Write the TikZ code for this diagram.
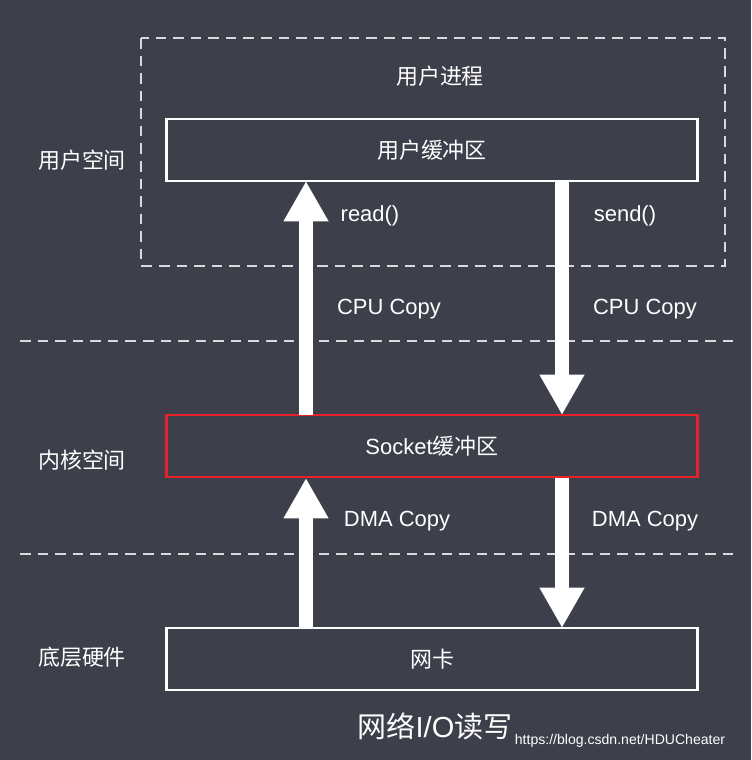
\documentclass[tikz,border=0pt]{standalone}
\usepackage{fontspec}
\setmainfont{Liberation Sans}
\newfontfamily\cjk{Noto Sans CJK SC}
\usetikzlibrary{positioning, arrows.meta}
\definecolor{bgdark}{HTML}{3D3F4A}
\definecolor{boxred}{HTML}{E8202A}
\begin{document}
\begin{tikzpicture}[x=0.02cm, y=-0.02cm,
    lbl/.style={text=white, font=\fontsize{12.5}{15}\selectfont},
    buf/.style={draw=white, line width=1.3pt, minimum width=531*0.02cm, minimum height=62*0.02cm, text=white, font=\fontsize{12.5}{15}\selectfont},
    sep/.style={draw=white!85!black, dashed, line width=1.3pt, dash pattern=on 6pt off 4pt},
    copyarrow/.style={draw=white, line width=8pt, -{Triangle[width=24pt, length=23pt]}}]
    \fill[bgdark] (0,0) rectangle (751,760);
    % user space frame
    \draw[sep] (141,38) rectangle (725,266);
    \node[lbl] (proc) at (440,76) {\cjk 用户进程};
    \node[buf] (ubuf) at (432,150) {\cjk 用户缓冲区};
    \node[buf, draw=boxred] (sbuf) at (432,446) {Socket{\cjk 缓冲区}};
    \node[buf] (nic) at (432,659) {\cjk 网卡};
    % layer separators
    \draw[sep] (20,341) -- (735,341);
    \draw[sep] (20,554) -- (735,554);
    % layer names
    \node[lbl] (uspace) at (82,160) {\cjk 用户空间};
    \node[lbl] (kspace) at (82,460) {\cjk 内核空间};
    \node[lbl] (hw) at (82,657) {\cjk 底层硬件};
    % copies
    \coordinate (upA) at (306,415);
    \coordinate (upB) at (306,181);
    \coordinate (dnA) at (562,181);
    \coordinate (dnB) at (562,415);
    \draw[copyarrow] (upA) -- (upB);
    \draw[copyarrow] (dnA) -- (dnB);
    \coordinate (upC) at (306,628);
    \coordinate (upD) at (306,478);
    \coordinate (dnC) at (562,478);
    \coordinate (dnD) at (562,628);
    \draw[copyarrow] (upC) -- (upD);
    \draw[copyarrow] (dnC) -- (dnD);
    \node[lbl] (rd) at (370,216) {read()};
    \node[lbl] (sd) at (625,216) {send()};
    \node[lbl] (cpu1) at (389,309) {CPU Copy};
    \node[lbl] (cpu2) at (645,309) {CPU Copy};
    \node[lbl] (dma1) at (397,521) {DMA Copy};
    \node[lbl] (dma2) at (645,521) {DMA Copy};
    % caption
    \node[text=white, font=\fontsize{16.5}{20}\selectfont] (cap) at (435,726) {{\cjk 网络}I/O{\cjk 读写}};
    \node[text=white, font=\fontsize{8}{9}\selectfont] (url) at (620,741) {https://blog.csdn.net/HDUCheater};
\end{tikzpicture}
\end{document}
